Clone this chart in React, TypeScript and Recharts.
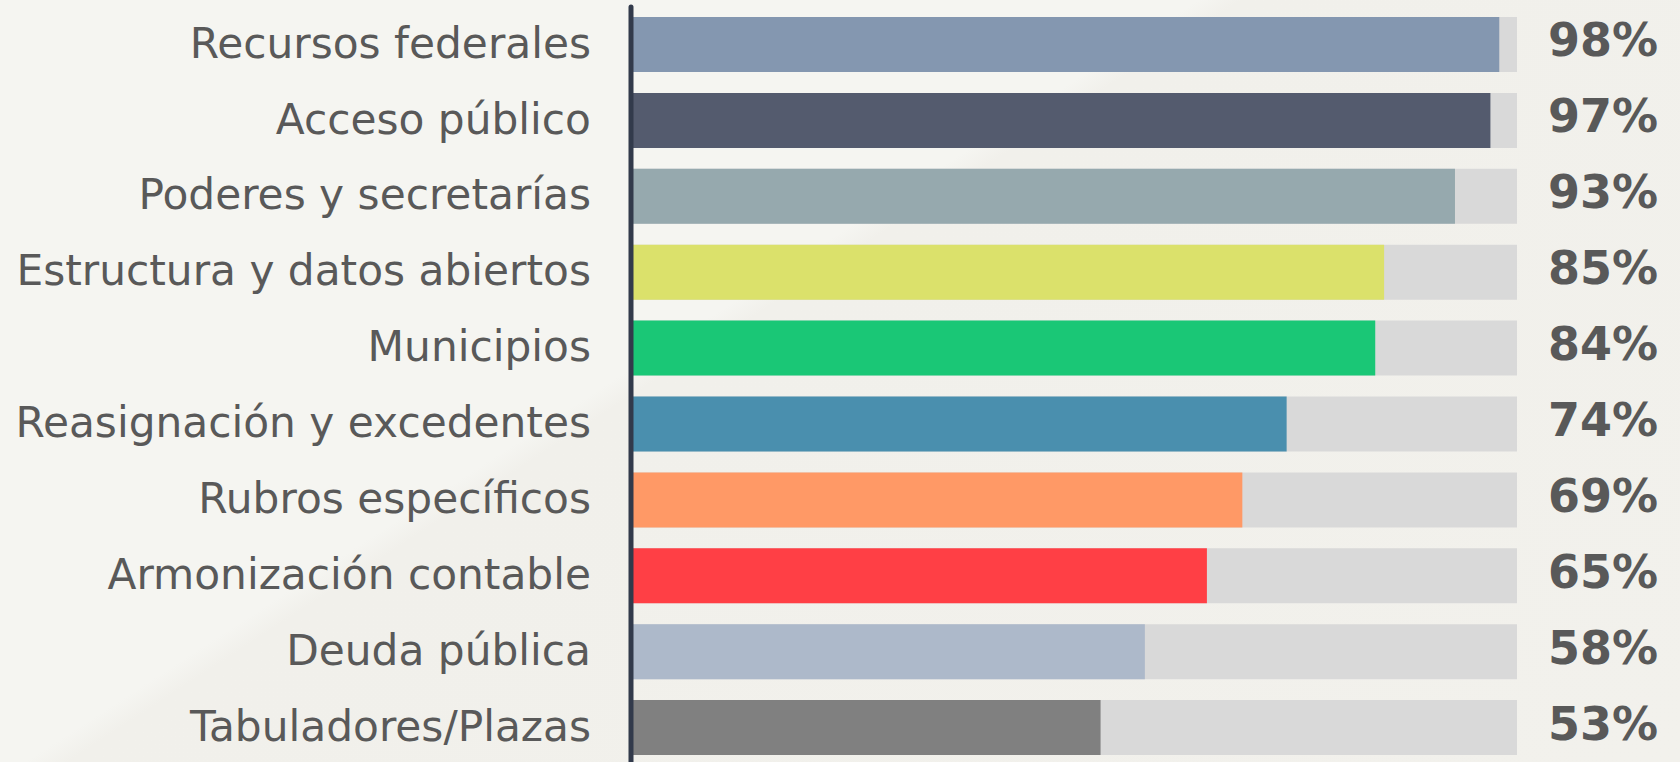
import { BarChart, Bar, XAxis, YAxis, Cell } from "recharts";

const categorias = [
  "Recursos federales",
  "Acceso público",
  "Poderes y secretarías",
  "Estructura y datos abiertos",
  "Municipios",
  "Reasignación y excedentes",
  "Rubros específicos",
  "Armonización contable",
  "Deuda pública",
  "Tabuladores/Plazas",
];
const avance = [98, 97, 93, 85, 84, 74, 69, 65, 58, 53];
const etiquetas = ["98%", "97%", "93%", "85%", "84%", "74%", "69%", "65%", "58%", "53%"];
const colores = [
  "#8497b0",
  "#545b6e",
  "#96a9ae",
  "#dbe16b",
  "#1ac776",
  "#4a8fae",
  "#ff9966",
  "#ff3f45",
  "#adb9ca",
  "#808080",
];

const data = categorias.map((nombre, i) => ({ nombre, valor: avance[i], etiqueta: etiquetas[i] }));

const TickNombre = (props: any) => (
  <text
    x={props.x}
    y={props.y}
    dy="0.3em"
    textAnchor="end"
    fill="#595959"
    fontSize={42.3}
    fontFamily="DejaVu Sans"
  >
    {props.payload.value}
  </text>
);

const TickPct = (props: any) => (
  <text
    x={props.x}
    y={props.y}
    dy="0.25em"
    textAnchor="start"
    fill="#595959"
    fontSize={46}
    fontWeight="bold"
    fontFamily="DejaVu Sans"
  >
    {props.payload.value}
  </text>
);

export default function App() {
  return (
    <div
      style={{
        position: "absolute",
        left: 0,
        top: 0,
        width: 1680,
        height: 762,
        overflow: "hidden",
        background: "linear-gradient(147deg, #f5f5f1 0%, #f5f5f1 42%, #f1f0eb 43.5%, #f2f1ec 100%)",
      }}
    >
      <BarChart
        width={1680}
        height={766}
        data={data}
        layout="vertical"
        margin={{ top: 7, right: 0, bottom: 0, left: 0 }}
      >
        <XAxis type="number" domain={[0, 100]} hide />
        <YAxis
          yAxisId="left"
          type="category"
          dataKey="nombre"
          width={631}
          tickSize={0}
          tickMargin={40}
          tickLine={false}
          axisLine={{ stroke: "#323a4b", strokeWidth: 5, strokeLinecap: "round" }}
          tick={TickNombre}
        />
        <YAxis
          yAxisId="right"
          orientation="right"
          type="category"
          dataKey="etiqueta"
          width={163}
          tickSize={0}
          tickMargin={31}
          tickLine={false}
          axisLine={false}
          tick={TickPct}
        />
        <Bar
          yAxisId="left"
          dataKey="valor"
          barSize={55}
          background={{ fill: "#d9d9d9" }}
          isAnimationActive={false}
        >
          {data.map((d, i) => (
            <Cell key={d.nombre} fill={colores[i]} />
          ))}
        </Bar>
      </BarChart>
    </div>
  );
}
